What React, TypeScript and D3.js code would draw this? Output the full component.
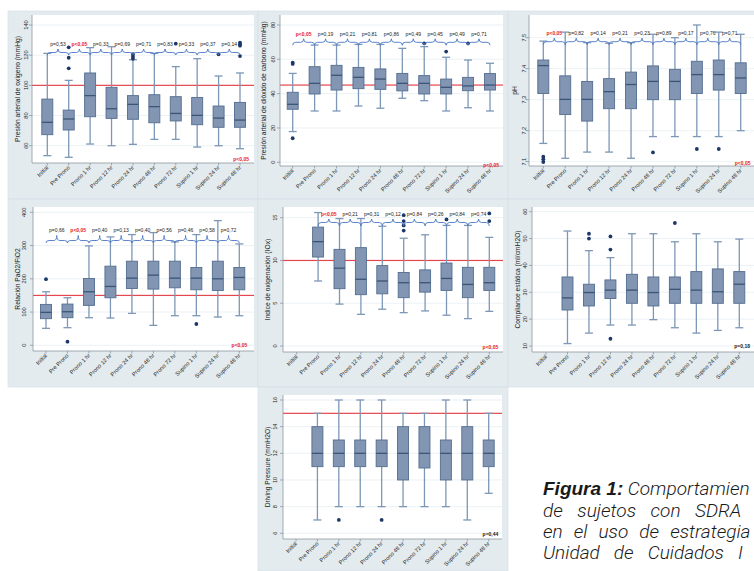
import React from "react";
import * as d3 from "d3";

const categories = [
  "Initial", "Pre Prono", "Prono 1 hr", "Prono 12 hr", "Prono 24 hr",
  "Prono 48 hr", "Prono 72 hr", "Supino 1 hr", "Supino 24 hr", "Supino 48 hr",
];

// each box: [lower whisker, Q1, median, Q3, upper whisker]
const pao2Box = [
  [53.4, 67.3, 75.5, 90.9, 121.2], [52.3, 70.4, 77.7, 83.6, 103.3], [61.1, 79.2, 93.2, 108.2, 125],
  [60, 78.1, 84.5, 98.7, 125.6], [60.9, 77.5, 87.4, 93.2, 117], [64.2, 75.2, 85.9, 93.8, 121.2],
  [64.2, 76.4, 81.4, 92.5, 112.4], [59.1, 73.9, 80.1, 92, 117.7], [60, 72.2, 78.3, 86.3, 106.2],
  [58, 72.2, 77, 88.7, 108.2],
];
const pao2Out = [[], [125.2, 118.3, 111.3], [], [], [120.6, 119, 117.6], [], [127.6], [], [120.6], [128.3, 127.2, 126.3, 119.4]];
const pao2P = ["p=0,53", "p<0,05", "p=0,33", "p=0,69", "p=0,71", "p=0,83", "p=0,33", "p=0,37", "p=0,14"];
const pao2Ticks = [60, 80, 100, 120, 140];

const paco2Box = [
  [17.9, 30.9, 33.8, 40.8, 51.8], [29.9, 39.8, 46, 55.7, 68.3], [29.9, 42.1, 50.7, 56.5, 68.3],
  [32.8, 42.9, 49.5, 55.3, 68.7], [31.5, 42.5, 48.5, 54.4, 68.7], [37.3, 41.6, 46, 51.8, 66.4],
  [35.9, 39.8, 46, 50.5, 67.4], [29.9, 39.8, 43.7, 48.5, 61.2], [31.8, 41.7, 44.5, 49.5, 59.6],
  [29.9, 42.1, 45, 51.7, 57.7],
];
const paco2Out = [[58.1, 57.3, 14], [], [], [], [], [], [69.3], [64.5], [69.3], []];
const paco2P = ["p<0,05", "p=0,19", "p=0,21", "p=0,81", "p=0,86", "p=0,49", "p=0,45", "p=0,49", "p=0,71"];
const paco2Ticks = [0, 20, 40, 60, 80];

const phBox = [
  [7.159, 7.32, 7.41, 7.428, 7.489], [7.111, 7.252, 7.301, 7.377, 7.518], [7.131, 7.231, 7.301, 7.359, 7.484],
  [7.131, 7.271, 7.326, 7.368, 7.482], [7.111, 7.271, 7.349, 7.389, 7.484], [7.181, 7.3, 7.359, 7.409, 7.511],
  [7.181, 7.3, 7.359, 7.398, 7.5], [7.181, 7.32, 7.381, 7.424, 7.541], [7.181, 7.331, 7.381, 7.428, 7.518],
  [7.2, 7.32, 7.37, 7.419, 7.511],
];
const phOut = [[7.116, 7.108, 7.099], [], [], [], [], [7.13], [], [7.141], [7.141], []];
const phP = ["p<0,05", "p=0,82", "p=0,14", "p=0,21", "p=0,23", "p=0,89", "p=0,17", "p=0,76", "p=0,71"];
const phTicks = [7.1, 7.2, 7.3, 7.4, 7.5];

const pfBox = [
  [51, 80, 99, 123, 161], [53, 83, 101, 124, 143], [83, 120, 161, 201, 299],
  [82, 143, 177, 238, 326], [96, 171, 202, 253, 333], [60, 169, 211, 253, 339],
  [89, 173, 202, 253, 311], [89, 167, 202, 234, 333], [85, 165, 200, 253, 375],
  [89, 167, 204, 234, 305],
];
const pfOut = [[199], [11], [], [], [], [], [], [64], [], []];
const pfP = ["p=0,66", "p<0,05", "p=0,40", "p=0,13", "p=0,40", "p=0,56", "p=0,46", "p=0,58", "p=0,72"];
const pfTicks = [0, 100, 200, 300, 400];

const ioxBox = [
  null, [7.6, 10.4, 12.2, 13.9, 15.6], [4.9, 6.7, 9.1, 11.3, 14.9],
  [3.7, 6.0, 7.8, 11.5, 14.9], [4.3, 6.1, 7.6, 9.4, 14.0], [3.9, 5.65, 7.4, 8.6, 12.6],
  [4.1, 6.3, 7.4, 8.9, 13.0], [3.6, 6.5, 7.9, 9.7, 14.1], [3.2, 5.65, 7.2, 9.2, 14.1],
  [4.05, 6.5, 7.4, 9.2, 12.7],
];
const ioxOut = [[], [], [], [], [], [15.3, 14.6, 14.1, 13.5], [], [14.8], [], [15.5, 14.6]];
const ioxP = ["p<0,05", "p=0,21", "p=0,31", "p=0,12", "p=0,84", "p=0,26", "p=0,84", "p=0,74"];
const ioxTicks = [0, 5, 10, 15];

const compBox = [
  null, [10.9, 23.4, 27.9, 35.7, 52.8], [14.8, 24.9, 29.9, 33, 45.5],
  [17.8, 27.7, 30.8, 34.6, 42.9], [17.8, 25.9, 30.8, 36.7, 51.8], [19.8, 24.9, 29.9, 35.7, 51.8],
  [16.8, 25.9, 31.1, 35.7, 48.8], [14.8, 25.9, 30.8, 37.7, 51.8], [15.8, 25.9, 30.2, 38.7, 48.8],
  [16.8, 25.9, 33, 37.7, 49.8],
];
const compOut = [[], [], [51.8, 50], [50.8, 45.9, 12.7], [], [], [55.8], [], [], []];
const compTicks = [10, 20, 30, 40, 50, 60];

const dpBox = [
  null, [7, 11, 12, 14, 15], [8, 11, 12, 13, 16],
  [8, 11, 12, 13, 16], [8, 11, 12, 13, 16], [8, 10, 12, 14, 15],
  [8, 10.9, 12, 14, 15], [8, 10, 12, 13, 16], [7, 10, 12, 14, 16],
  [9, 11, 12, 13, 15],
];
const dpOut = [[], [], [7], [], [7], [], [], [], [], []];
const dpTicks = [6, 8, 10, 12, 14, 16];

const FONT = "'Liberation Sans', Arial, Helvetica, sans-serif";
const CAP_FONT = "Roboto, 'Liberation Sans', Arial, sans-serif";
const BG = "#e3ebef";
const BOX_FILL = "#8295b3";
const BOX_STROKE = "#536d8f";
const WHISK = "#7d97b6";
const MEDIAN = "#3b5576";
const DOT = "#1d3868";
const BRACE = "#4a76c6";
const RED = "#e4474d";
const PRED = "#e8202a";

type PanelCfg = {
  title: string;
  stats: (number[] | null)[];
  outliers: number[][];
  pvals: string[] | null;
  braceStart: number;
  ticks: number[];
  fmt: (v: number) => string;
  ref: number | null;
  bottomP: string;
  bottomRed: boolean;
  bg: [number, number, number, number];
  plot: [number, number, number, number];
  yRange: [number, number];
  xRange: [number, number];
  tickX: number;
  titleX: number;
  braceY: number;
  braceUp: number;
  braceDown: number;
  pY: number;
  bottomPos: [number, number];
};

const fmtInt = (v: number) => String(v);

const panels: PanelCfg[] = [
  {
    title: "Presión arterial de oxígeno (mmHg)", stats: pao2Box, outliers: pao2Out, pvals: pao2P, braceStart: 0,
    ticks: pao2Ticks, fmt: fmtInt, ref: 100, bottomP: "p<0,05", bottomRed: true,
    bg: [8, 11, 250, 188], plot: [32, 254, 15, 163], yRange: [145.7, 25], xRange: [47.3, 240],
    tickX: 26, titleX: 18, braceY: 52.5, braceUp: 3.5, braceDown: 2.5, pY: 45.5, bottomPos: [249, 161],
  },
  {
    title: "Presión arterial de dióxido de carbono (mmHg)", stats: paco2Box, outliers: paco2Out, pvals: paco2P, braceStart: 0,
    ticks: paco2Ticks, fmt: fmtInt, ref: 45, bottomP: "p<0,05", bottomRed: true,
    bg: [258, 11, 250, 188], plot: [280, 503, 15, 166], yRange: [162.3, 25], xRange: [292.7, 490],
    tickX: 273.3, titleX: 263.5, braceY: 42.3, braceUp: 3.5, braceDown: 3, pY: 35.5, bottomPos: [499, 167],
  },
  {
    title: "pH", stats: phBox, outliers: phOut, pvals: phP, braceStart: 0,
    ticks: phTicks, fmt: (v) => v.toFixed(1), ref: null, bottomP: "p<0,05", bottomRed: true,
    bg: [508, 11, 250, 188], plot: [529, 760, 15, 166], yRange: [161.7, 37.7], xRange: [543.3, 740.7],
    tickX: 524, titleX: 515, braceY: 41.7, braceUp: 3.5, braceDown: 3, pY: 35, bottomPos: [750.5, 164.5],
  },
  {
    title: "Relación PaO2/FiO2", stats: pfBox, outliers: pfOut, pvals: pfP, braceStart: 0,
    ticks: pfTicks, fmt: fmtInt, ref: 150, bottomP: "p<0,05", bottomRed: true,
    bg: [8, 199, 250, 188], plot: [33, 254, 207, 351], yRange: [345.3, 212.3], xRange: [46, 239.3],
    tickX: 24, titleX: 18.3, braceY: 240.5, braceUp: 5, braceDown: 2.5, pY: 232, bottomPos: [247.3, 347],
  },
  {
    title: "Indice de oxigenación (IOx)", stats: ioxBox, outliers: ioxOut, pvals: ioxP, braceStart: 1,
    ticks: ioxTicks, fmt: fmtInt, ref: 10, bottomP: "p<0,05", bottomRed: true,
    bg: [258, 199, 250, 188], plot: [283, 503, 207, 352], yRange: [346, 217.7], xRange: [296.7, 489.3],
    tickX: 275, titleX: 268.3, braceY: 222.5, braceUp: 3.5, braceDown: 3.5, pY: 215.5, bottomPos: [498.3, 349],
  },
  {
    title: "Compliance estática (ml/cmH2O)", stats: compBox, outliers: compOut, pvals: null, braceStart: 0,
    ticks: compTicks, fmt: fmtInt, ref: null, bottomP: "p=0,18", bottomRed: false,
    bg: [508, 199, 250, 188], plot: [532, 760, 207, 352], yRange: [346, 211.7], xRange: [546, 739.3],
    tickX: 525, titleX: 518.3, braceY: 0, braceUp: 0, braceDown: 0, pY: 0, bottomPos: [750, 348],
  },
  {
    title: "Driving Pressure (mmH2O)", stats: dpBox, outliers: dpOut, pvals: null, braceStart: 0,
    ticks: dpTicks, fmt: fmtInt, ref: 15, bottomP: "p=0,44", bottomRed: false,
    bg: [258, 387, 250, 184], plot: [283, 502, 395, 539], yRange: [533.3, 400], xRange: [296, 488.7],
    tickX: 275, titleX: 268.3, braceY: 0, braceUp: 0, braceDown: 0, pY: 0, bottomPos: [498.3, 535.5],
  },
];

function bracePath(xa: number, xb: number, yb: number, up: number, down: number) {
  const m = (xa + xb) / 2;
  const c = 3;
  return `M${xa},${yb + down} Q${xa},${yb} ${xa + c},${yb} L${m - c},${yb} Q${m},${yb} ${m},${yb - up} Q${m},${yb} ${m + c},${yb} L${xb - c},${yb} Q${xb},${yb} ${xb},${yb + down}`;
}

function BoxPanel({ cfg }: { cfg: PanelCfg }) {
  const [bx, by, bw, bh] = cfg.bg;
  const [x0, x1, y0, y1] = cfg.plot;
  const x = d3.scalePoint<string>().domain(categories).range(cfg.xRange);
  const y = d3.scaleLinear().domain([cfg.ticks[0], cfg.ticks[cfg.ticks.length - 1]]).range(cfg.yRange);
  const boxW = 11;
  const capW = 8;
  const midY = (y0 + y1) / 2;
  return (
    <g>
      <rect x={bx} y={by} width={bw} height={bh} fill={BG} stroke="#d4dde3" strokeWidth={0.6} />
      <rect x={x0} y={y0} width={x1 - x0} height={y1 - y0} fill="#ffffff" />
      {cfg.ticks.map((t) => (
        <line key={"g" + t} x1={x0} x2={x1} y1={y(t)} y2={y(t)} stroke="#e6edf2" strokeWidth={0.8} />
      ))}
      {cfg.ref !== null && (
        <rect x={x0} y={y(cfg.ref) - 0.6} width={x1 - x0} height={1.2} fill={RED} />
      )}
      {cfg.stats.map((s, i) => {
        if (!s) return null;
        const cx = x(categories[i]) as number;
        const [lo, q1, med, q3, hi] = s;
        return (
          <g key={"b" + i}>
            <line x1={cx} x2={cx} y1={y(q3)} y2={y(hi)} stroke={WHISK} strokeWidth={1.3} />
            <line x1={cx} x2={cx} y1={y(q1)} y2={y(lo)} stroke={WHISK} strokeWidth={1.3} />
            <line x1={cx - capW / 2} x2={cx + capW / 2} y1={y(hi)} y2={y(hi)} stroke={WHISK} strokeWidth={1.3} />
            <line x1={cx - capW / 2} x2={cx + capW / 2} y1={y(lo)} y2={y(lo)} stroke={WHISK} strokeWidth={1.3} />
            <rect x={cx - boxW / 2} y={y(q3)} width={boxW} height={y(q1) - y(q3)} fill={BOX_FILL} stroke={BOX_STROKE} strokeWidth={0.9} />
            <line x1={cx - boxW / 2} x2={cx + boxW / 2} y1={y(med)} y2={y(med)} stroke={MEDIAN} strokeWidth={1.3} />
          </g>
        );
      })}
      {cfg.outliers.map((os, i) =>
        os.map((v, j) => (
          <circle key={"o" + i + "-" + j} cx={x(categories[i]) as number} cy={y(v)} r={1.9} fill={DOT} />
        ))
      )}
      {cfg.pvals &&
        cfg.pvals.map((p, k) => {
          const ia = k + cfg.braceStart;
          const xa = x(categories[ia]) as number;
          const xb = x(categories[ia + 1]) as number;
          const red = p.includes("<");
          return (
            <g key={"p" + k}>
              <path d={bracePath(xa, xb, cfg.braceY, cfg.braceUp, cfg.braceDown)} fill="none" stroke={BRACE} strokeWidth={0.9} />
              <text x={(xa + xb) / 2} y={cfg.pY} fontSize={5} textAnchor="middle" fill={red ? PRED : "#222"} fontWeight={red ? "bold" : "normal"} fontFamily={FONT}>
                {p}
              </text>
            </g>
          );
        })}
      <line x1={x0} x2={x0} y1={y0} y2={y1} stroke="#8d979f" strokeWidth={0.8} />
      <line x1={x0} x2={x1} y1={y1} y2={y1} stroke="#8d979f" strokeWidth={0.8} />
      {cfg.ticks.map((t) => (
        <g key={"t" + t}>
          <line x1={x0 - 3} x2={x0} y1={y(t)} y2={y(t)} stroke="#8d979f" strokeWidth={0.8} />
          <text transform={`translate(${cfg.tickX + 2},${y(t)}) rotate(-90)`} fontSize={5.6} textAnchor="middle" fill="#222" fontFamily={FONT}>
            {cfg.fmt(t)}
          </text>
        </g>
      ))}
      {categories.map((c) => {
        const cx = x(c) as number;
        return (
          <g key={"x" + c}>
            <line x1={cx} x2={cx} y1={y1} y2={y1 + 2.5} stroke="#8d979f" strokeWidth={0.8} />
            <text transform={`translate(${cx + 1.5},${y1 + 5}) rotate(-45)`} fontSize={5.6} textAnchor="end" fill="#222" fontFamily={FONT}>
              {c}
            </text>
          </g>
        );
      })}
      <text transform={`translate(${cfg.titleX + 2},${midY}) rotate(-90)`} fontSize={6.7} textAnchor="middle" fill="#222" fontFamily={FONT}>
        {cfg.title}
      </text>
      <text x={cfg.bottomPos[0]} y={cfg.bottomPos[1]} fontSize={5} textAnchor="end" fill={cfg.bottomRed ? PRED : "#222"} fontWeight="bold" fontFamily={FONT}>
        {cfg.bottomP}
      </text>
    </g>
  );
}

const captionLines = ["de sujetos con SDRA", "en el uso de estrategia", "Unidad de Cuidados I"];

export default function App() {
  return (
    <svg width={754} height={571} viewBox="0 0 754 571" style={{ position: "absolute", left: 0, top: 0, background: "#ffffff" }}>
      <rect x={0} y={0} width={754} height={571} fill="#ffffff" />
      {panels.map((p, i) => (
        <BoxPanel key={i} cfg={p} />
      ))}
      <text x={543} y={495} fontSize={19} fontStyle="italic" fill="#1a1a1a" fontFamily={FONT}>
        <tspan fontWeight="bold">Figura 1:</tspan>
        <tspan fontFamily={CAP_FONT} fontWeight={300}> Comportamien</tspan>
      </text>
      {captionLines.map((l, i) => (
        <text key={l} x={543} y={516.5 + i * 21.2} fontSize={19} fontStyle="italic" fontWeight={300} fill="#1a1a1a" fontFamily={CAP_FONT} wordSpacing={[10, 6.5, 9.5][i]}>
          {l}
        </text>
      ))}
    </svg>
  );
}
